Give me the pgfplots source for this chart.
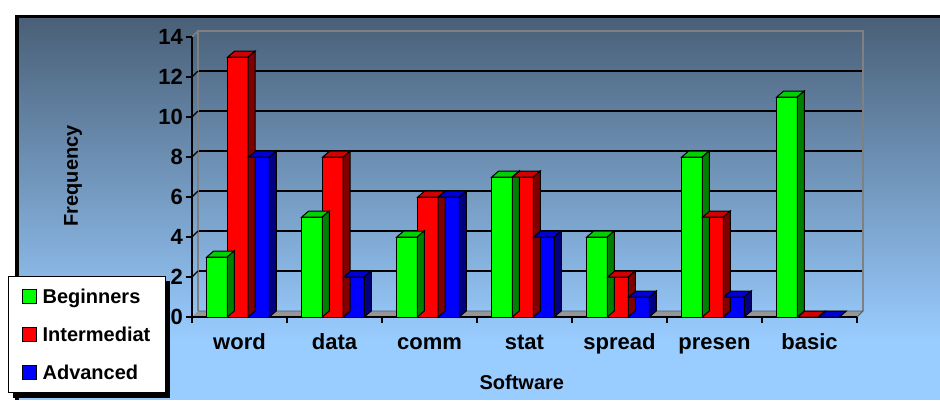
\documentclass[border=0pt]{standalone}
\usepackage{fontspec}
\setmainfont{Liberation Sans}
\usepackage{pgfplots}
\pgfplotsset{compat=1.18}
\usepackage{pgfplotstable}

\definecolor{bgtop}{RGB}{74,96,120}
\definecolor{bgbot}{RGB}{153,204,255}
\definecolor{gF}{RGB}{0,255,0}\definecolor{gT}{RGB}{0,210,0}\definecolor{gS}{RGB}{0,128,0}
\definecolor{rF}{RGB}{255,0,0}\definecolor{rT}{RGB}{210,0,0}\definecolor{rS}{RGB}{128,0,0}
\definecolor{bF}{RGB}{0,0,255}\definecolor{bT}{RGB}{0,0,210}\definecolor{bS}{RGB}{0,0,128}
\definecolor{wallgray}{RGB}{128,128,128}
\definecolor{floorgray}{RGB}{150,150,150}

\pgfplotstableread{
cat G R B
word 3 13 8
data 5 8 2
comm 4 6 6
stat 7 7 4
spread 4 2 1
presen 8 5 1
basic 11 0 0
}\datatable

\newcommand{\declareprism}[3]{%
 \pgfdeclareplotmark{#1}{%
  \pgfsetlinewidth{1pt}\pgfsetstrokecolor{black}\pgfsetmiterjoin
  \pgfpathmoveto{\pgfpoint{-10.25pt}{0pt}}%
  \pgfpathlineto{\pgfpoint{10.25pt}{0pt}}%
  \pgfpathlineto{\pgfpoint{17.25pt}{6pt}}%
  \pgfpathlineto{\pgfpoint{-3.25pt}{6pt}}%
  \pgfpathclose
  \pgfsetfillcolor{#2}%
  \pgfusepathqfillstroke
  \pgfpathmoveto{\pgfpoint{10.25pt}{0pt}}%
  \pgfpathlineto{\pgfpoint{17.25pt}{6pt}}%
  \pgfpathlineto{\pgfpoint{17.25pt}{6pt-\pgfplotmarksize}}%
  \pgfpathlineto{\pgfpoint{10.25pt}{-\pgfplotmarksize}}%
  \pgfpathclose
  \pgfsetfillcolor{#3}%
  \pgfusepathqfillstroke
 }}
\declareprism{prismG}{gT}{gS}
\declareprism{prismR}{rT}{rS}
\declareprism{prismB}{bT}{bS}

\newcommand{\tickfont}{\fontsize{22}{26}\selectfont\bfseries}
\newcommand{\labfont}{\fontsize{20}{24}\selectfont\bfseries}

\begin{document}
\begin{tikzpicture}[x=1pt,y=1pt]
\useasboundingbox (0,0) rectangle (940,400);
\fill[white] (0,0) rectangle (940,400);
\fill[black] (15,0) rectangle (940,385);
\fill[bgbot] (19,0) rectangle (940,62);
\shade[top color=bgtop, bottom color=bgbot] (19,60) rectangle (940,381);

% back wall with grid
\begin{axis}[at={(198pt,89pt)}, anchor=south west, scale only axis,
  width=665pt, height=280pt,
  xmin=-0.5, xmax=6.5, ymin=0, ymax=14,
  axis line style={draw=none}, xtick=\empty, ytick={2,4,...,12},
  yticklabel style={opacity=0},
  ymajorgrids, major grid style={black, line width=1.2pt},
  major tick length=0pt, clip=false]
\draw[wallgray, line width=1.5pt] (rel axis cs:0,0) -- (rel axis cs:0,1) -- (rel axis cs:1,1) -- (rel axis cs:1,0);
\end{axis}

% floor and side wall
\fill[floorgray] (192,83) -- (857,83) -- (863,89) -- (198,89) -- cycle;
\draw[wallgray!70!black, line width=0.8pt] (198,89) -- (863,89) -- (857,83);
\draw[wallgray, line width=1.5pt] (192,363) -- (198,369);
\foreach \k in {2,4,...,12} \draw[black, line width=1.2pt] (192,83+20*\k) -- (198,89+20*\k);

% legend shadow
\fill[black] (13,2) rectangle (170,119);

% front axis with bars
\begin{axis}[at={(192pt,83pt)}, anchor=south west, scale only axis,
  width=665pt, height=280pt,
  xmin=-0.5, xmax=6.5, ymin=0, ymax=14,
  axis x line*=bottom, axis y line*=left,
  axis line style={black, line width=1.2pt},
  tick align=outside, major tick length=6pt,
  tick style={black, line width=1.2pt},
  xtick={-0.5,0.5,1.5,2.5,3.5,4.5,5.5,6.5},
  xticklabels={word,data,comm,stat,spread,presen,basic,{}},
  xticklabel style={xshift=47.5pt, yshift=-7pt, font=\tickfont, inner sep=3pt,
    text height=16pt, text depth=5pt},
  ytick={0,2,...,14},
  yticklabel style={font=\tickfont, inner sep=3pt},
  /pgf/number format/assume math mode=true,
  clip=false,
  xlabel={Software}, ylabel={Frequency},
  xlabel style={at={(axis description cs:0.496,-0.232)}, anchor=center, font=\labfont},
  ylabel style={at={(axis description cs:-0.179,0.504)}, anchor=center, font=\labfont},
  legend cell align=left,
  legend style={at={(axis description cs:-0.2767,0.1464)}, anchor=north west,
    draw=black, line width=1.2pt, fill=white, font=\labfont,
    inner xsep=13pt, inner ysep=10pt, row sep=18pt,
    nodes={inner sep=2pt},
    /tikz/every odd column/.style={column sep=4pt}},
]
\addplot[ybar, bar width=20.5pt, bar shift=0pt, fill=gF, draw=black, line width=1pt,
  legend image code/.code={\draw[fill=gF,draw=black,line width=1pt] (0pt,-7pt) rectangle (14pt,7pt);}]
  table[x expr=\coordindex-0.2368, y=G] {\datatable};
\addlegendentry{Beginners}
\addplot[forget plot, scatter, only marks, mark=prismG,
  visualization depends on={rawy \as \hval},
  scatter/@pre marker code/.append style={/tikz/mark size=20*\hval}]
  table[x expr=\coordindex-0.2368, y=G] {\datatable};

\addplot[ybar, bar width=20.5pt, bar shift=0pt, fill=rF, draw=black, line width=1pt,
  legend image code/.code={\draw[fill=rF,draw=black,line width=1pt] (0pt,-7pt) rectangle (14pt,7pt);}]
  table[x expr=\coordindex-0.0158, y=R] {\datatable};
\addlegendentry{Intermediat}
\addplot[forget plot, scatter, only marks, mark=prismR,
  visualization depends on={rawy \as \hval},
  scatter/@pre marker code/.append style={/tikz/mark size=20*\hval}]
  table[x expr=\coordindex-0.0158, y=R] {\datatable};

\addplot[ybar, bar width=20.5pt, bar shift=0pt, fill=bF, draw=black, line width=1pt,
  legend image code/.code={\draw[fill=bF,draw=black,line width=1pt] (0pt,-7pt) rectangle (14pt,7pt);}]
  table[x expr=\coordindex+0.2053, y=B] {\datatable};
\addlegendentry{Advanced}
\addplot[forget plot, scatter, only marks, mark=prismB,
  visualization depends on={rawy \as \hval},
  scatter/@pre marker code/.append style={/tikz/mark size=20*\hval}]
  table[x expr=\coordindex+0.2053, y=B] {\datatable};
\end{axis}
\end{tikzpicture}
\end{document}
